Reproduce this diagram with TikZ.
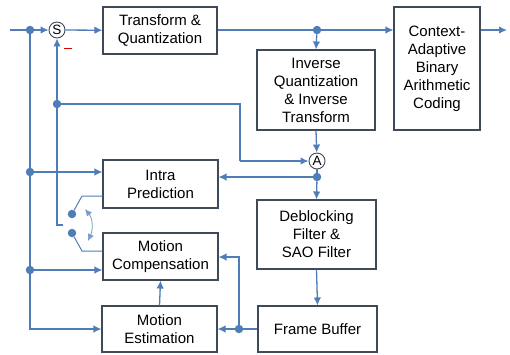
\documentclass[tikz,border=0pt]{standalone}
\usepackage{fontspec}
\setmainfont{Liberation Sans}
\usetikzlibrary{arrows.meta}
\definecolor{lineblue}{HTML}{4F7DB8}
\definecolor{boxgray}{HTML}{3F4A58}
\begin{document}
\begin{tikzpicture}[x=1pt,y=-1pt,
  blk/.style={draw=boxgray,line width=1.1pt,fill=white,inner sep=0pt,align=center,
    font=\fontsize{15}{18}\selectfont},
  wire/.style={draw=lineblue,line width=1.3pt},
  arr/.style={wire,-{Latex[length=8pt,width=7.5pt]}},
  jdot/.style={circle,fill=lineblue,inner sep=0pt,minimum size=8.5pt},
  sumc/.style={circle,draw=boxgray,line width=0.9pt,fill=white,inner sep=0pt,minimum size=16pt,
    font=\fontsize{13.5}{14}\selectfont}]
\useasboundingbox (0,0) rectangle (510,354);
% boxes
\node[blk,minimum width=114pt,minimum height=47pt] (tq) at (160,30.5) {Transform \&\\Quantization};
\node[blk,minimum width=118pt,minimum height=80pt] (iq) at (316,90) {Inverse\\Quantization\\\& Inverse\\Transform};
\node[blk,minimum width=86pt,minimum height=123pt] (cabac) at (437,68.5) {Context-\\Adaptive\\Binary\\Arithmetic\\Coding};
\node[blk,minimum width=115pt,minimum height=48pt] (intra) at (160.5,184) {Intra\\Prediction};
\node[blk,minimum width=115pt,minimum height=47pt] (mc) at (160.5,256.5) {Motion\\Compensation};
\node[blk,minimum width=115pt,minimum height=46pt] (me) at (159.5,329) {Motion\\Estimation};
\node[blk,minimum width=119pt,minimum height=69pt] (db) at (316.5,234.5) {Deblocking\\Filter \&\\SAO Filter};
\node[blk,minimum width=119pt,minimum height=46pt] (fb) at (317.5,329) {Frame Buffer};
% sum nodes
\node[sumc] (s) at (57,30) {S};
\node[sumc] (a) at (317,161) {A};
% junction dots
\node[jdot] (d1) at (30,30) {};
\node[jdot] (d2) at (30,172) {};
\node[jdot] (d3) at (30,270) {};
\node[jdot] (d4) at (57,104) {};
\node[jdot] (d5) at (317,30) {};
\node[jdot] (d6) at (317,177) {};
\node[jdot] (d7) at (239,329) {};
\node[jdot] (sw1) at (72,214) {};
\node[jdot] (sw2) at (72,233) {};
\coordinate (in) at (10,30);
\coordinate (out) at (507,30);
\coordinate (piv) at (63,225);
% main path
\draw[wire] (in) -- (d1);
\draw[arr] (d1) -- (s);
\draw[arr] (s) -- (tq);
\draw[arr] (tq.east |- d5) -- (d5) -- (cabac.west |- d5);
\draw[arr] (d5) -- (iq.north);
\draw[arr] (cabac.east |- out) -- (out);
\draw[arr] (iq.south) -- (a);
\draw[wire] (a) -- (d6);
\draw[arr] (d6) -- (db.north);
\draw[arr] (d6) -- (intra.east |- d6);
\draw[arr] (db.south) -- (fb.north);
\draw[wire] (fb.west |- d7) -- (d7);
\draw[arr] (d7) -- (me.east |- d7);
\draw[arr] (d7) |- (mc.east |- 0,257);
\draw[arr] (me.north) -- (mc.south);
% left bus
\draw[wire] (d1) -- (d3);
\draw[arr] (d3) |- (me.west |- 0,329);
\draw[arr] (d2) -- (intra.west |- d2);
\draw[arr] (d3) -- (mc.west |- d3);
% feedback of prediction
\draw[arr] (piv) -- (57,225) -- (d4) -- (s);
\draw[wire] (d4) -- (240,104) -- (240,161);
\draw[arr] (240,161) -- (a);
% switch
\draw[wire,line width=1pt] (sw1) -- (82,196) -- (intra.west |- 0,196);
\draw[wire,line width=1pt] (sw2) -- (82,251) -- (mc.west |- 0,251);
\draw[draw=lineblue!75,line width=0.8pt,{Latex[length=7pt,width=6.5pt]}-{Latex[length=7pt,width=6.5pt]}] (85,209) .. controls (93,219) and (93,230) .. (88,241);
% minus sign
\draw[red!85!black,line width=1pt] (64,48) -- (72,48);
\end{tikzpicture}
\end{document}
